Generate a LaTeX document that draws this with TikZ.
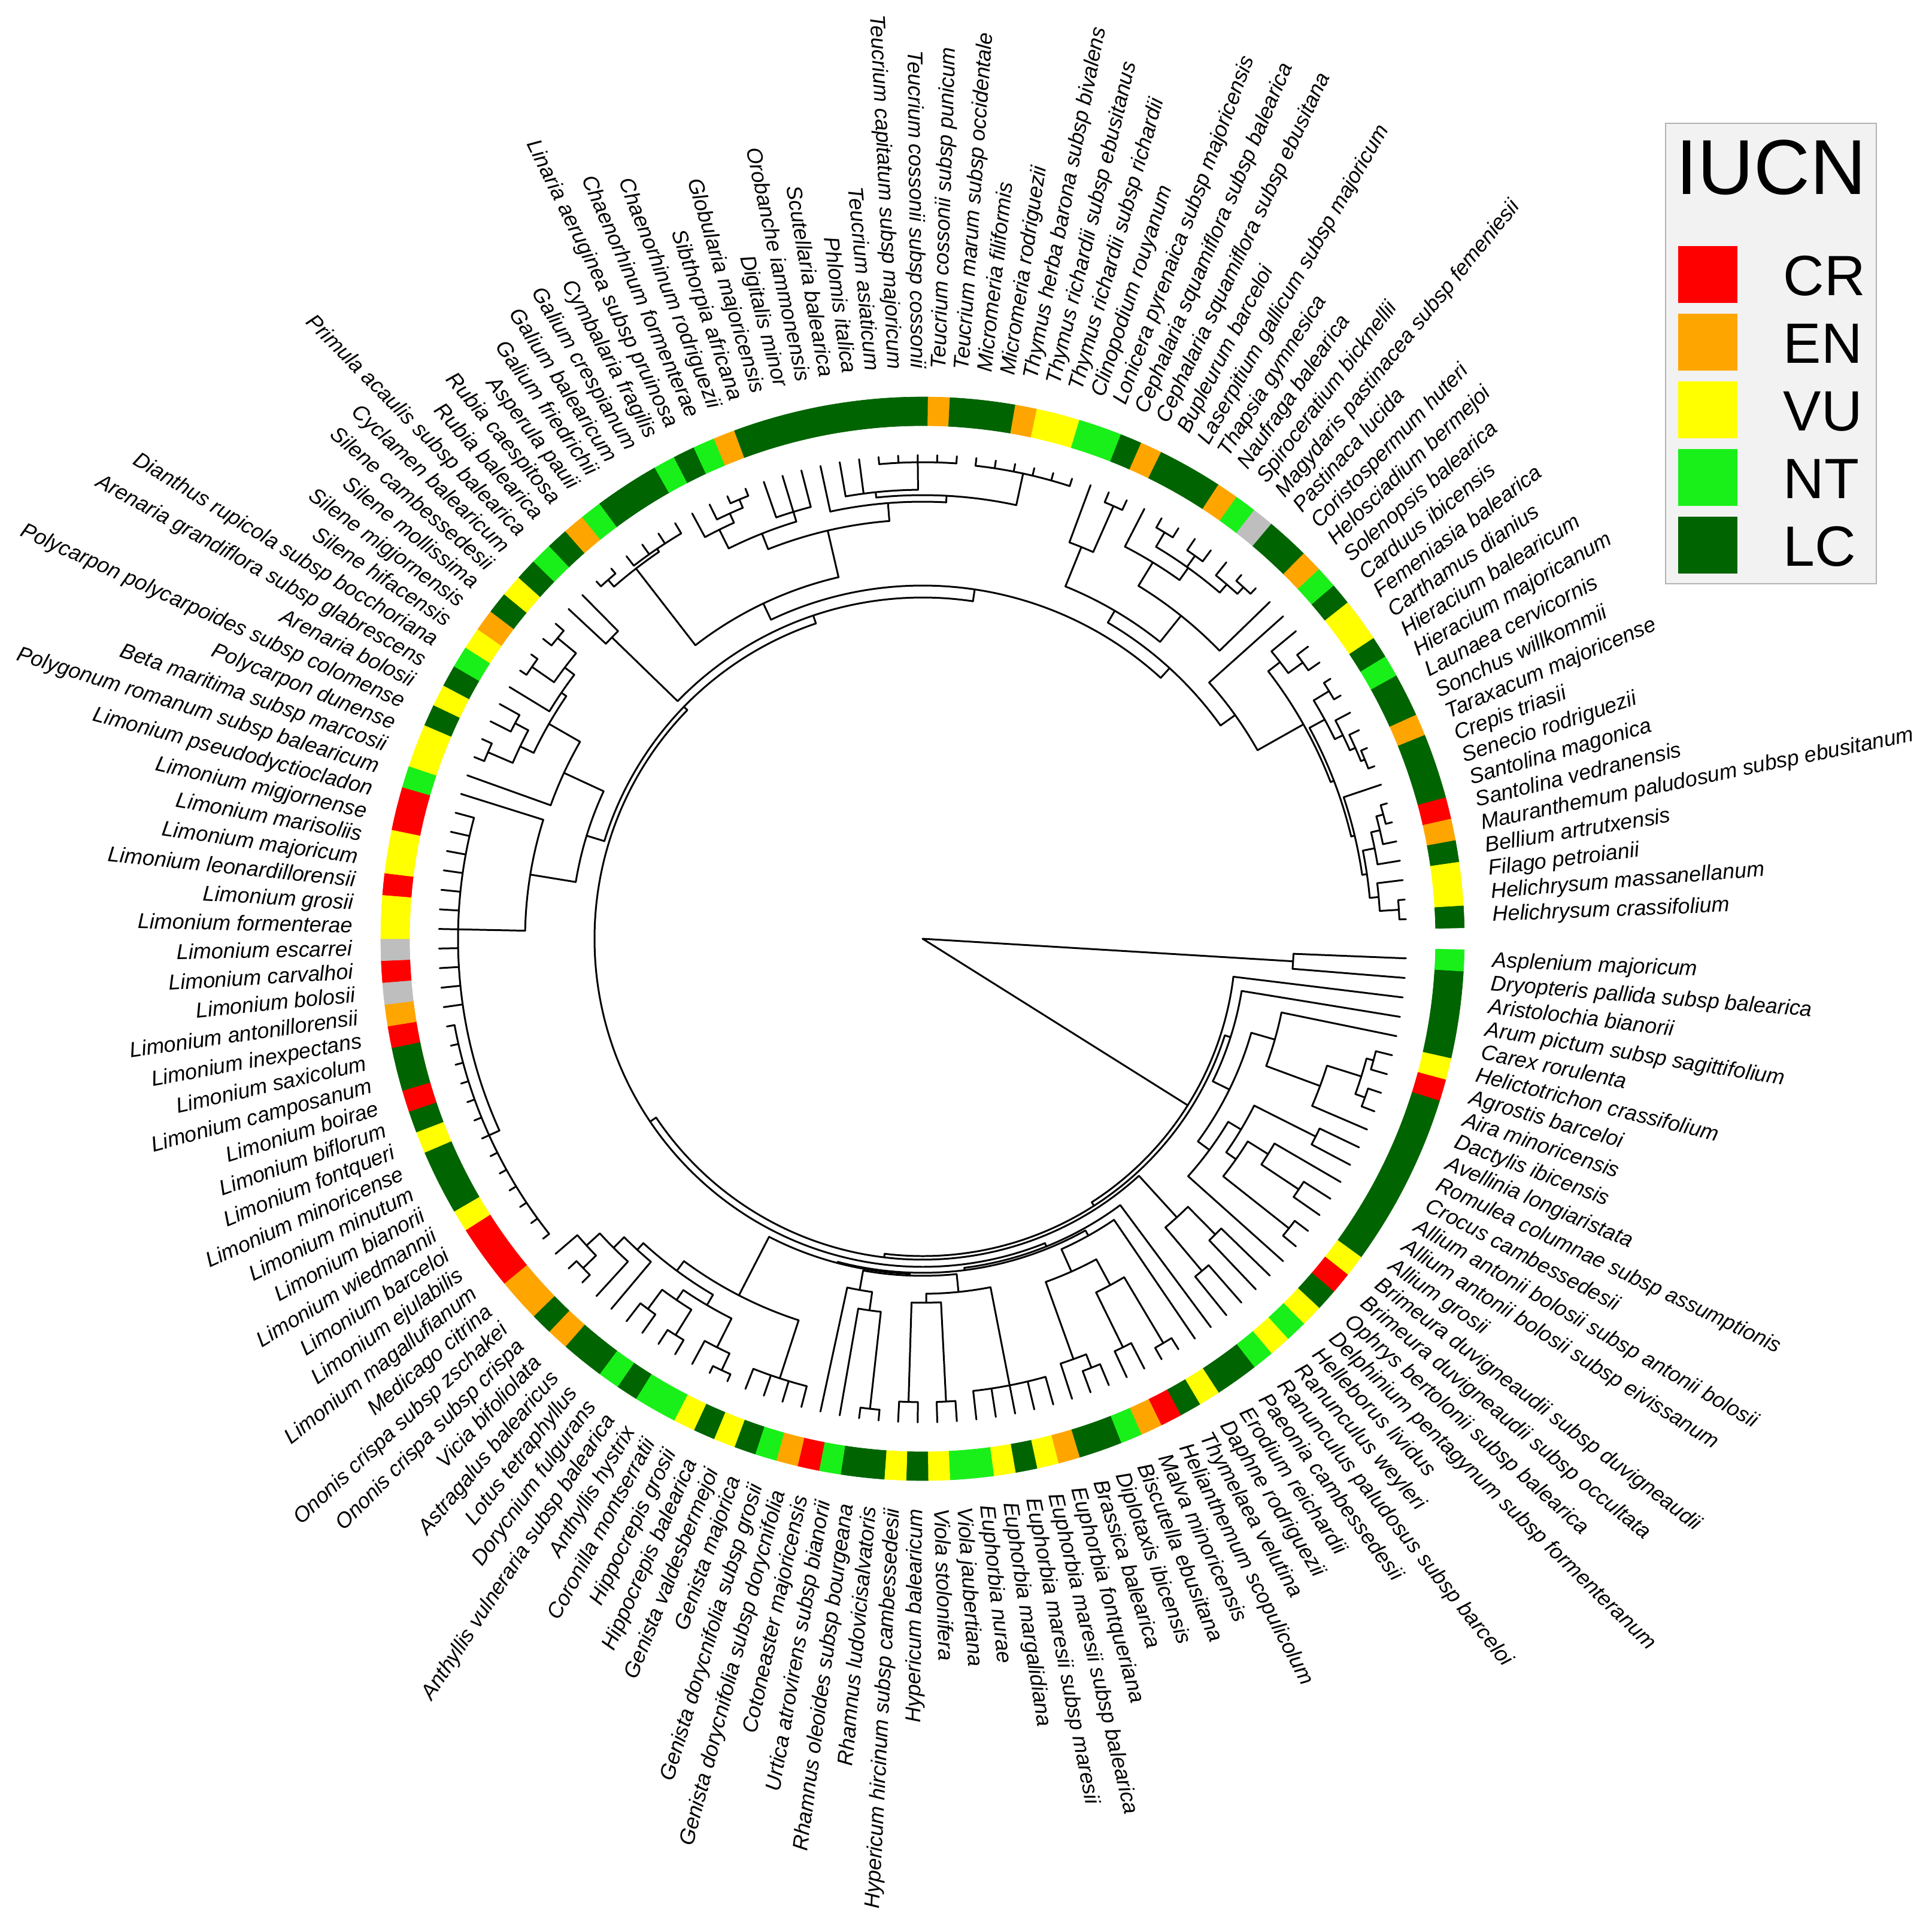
\documentclass[tikz,border=0pt]{standalone}
\usepackage{fontspec}
\setmainfont{Liberation Sans}
\definecolor{cR}{HTML}{FF0000}
\definecolor{cO}{HTML}{FFA500}
\definecolor{cY}{HTML}{FFFF00}
\definecolor{cG}{HTML}{19F019}
\definecolor{cD}{HTML}{006400}
\definecolor{cX}{HTML}{BEBEBE}
\definecolor{legbg}{HTML}{F2F2F2}
\def\tipR{8.08}
\def\stepA{2.32258}
\newcommand\T[2]{%
  \pgfmathsetmacro\tmpa{-(#2)*\stepA}%
  \expandafter\xdef\csname pA#1\endcsname{\tmpa}%
  \expandafter\xdef\csname pR#1\endcsname{\tipR}%
}
\newcommand\N[3]{%
  \xdef\sumA{0}\xdef\nA{0}\xdef\minA{1000}\xdef\maxA{-1000}%
  \foreach \kid in {#3}{%
    \edef\ca{\csname pA\kid\endcsname}%
    \edef\cr{\csname pR\kid\endcsname}%
    \draw[br] (\ca:#2) -- (\ca:\cr);
    \pgfmathsetmacro\tmpb{\sumA+(\ca)}\xdef\sumA{\tmpb}%
    \pgfmathsetmacro\tmpb{\nA+1}\xdef\nA{\tmpb}%
    \pgfmathsetmacro\tmpb{min(\minA,\ca)}\xdef\minA{\tmpb}%
    \pgfmathsetmacro\tmpb{max(\maxA,\ca)}\xdef\maxA{\tmpb}%
  }%
  \draw[br] (\minA:#2) arc[start angle=\minA, end angle=\maxA, radius=#2];
  \pgfmathsetmacro\tmpb{\sumA/\nA}%
  \expandafter\xdef\csname pA#1\endcsname{\tmpb}%
  \expandafter\xdef\csname pR#1\endcsname{#2}%
}
\newcommand\Cell[2]{%
  \pgfmathsetmacro\cea{-(#1)*\stepA+1.16129}%
  \pgfmathsetmacro\ceb{-(#1)*\stepA-1.16129}%
  \fill[#2,draw=#2,line width=0.2pt] (\cea:8.57) arc[start angle=\cea,end angle=\ceb,radius=8.57] -- (\ceb:9.05) arc[start angle=\ceb,end angle=\cea,radius=9.05] -- cycle;
}
\newcommand\Lab[2]{%
  \pgfmathsetmacro\la{-(#1)*\stepA}%
  \pgfmathsetmacro\lb{\la+180}%
  \ifnum#1<39
    \node[lab,anchor=west,rotate=\la] (L#1) at (\la:9.52) {#2};
  \else\ifnum#1>116
    \node[lab,anchor=west,rotate=\la] (L#1) at (\la:9.52) {#2};
  \else
    \node[lab,anchor=east,rotate=\lb] (L#1) at (\la:9.52) {#2};
  \fi\fi
}
\begin{document}
\begin{tikzpicture}[
  br/.style={line width=0.85pt, line cap=round},
  lab/.style={font=\fontsize{10.2}{12}\selectfont\itshape, inner sep=0pt, text height=7.3pt, text depth=2pt},
  legtxt/.style={font=\fontsize{27}{30}\selectfont, inner sep=0pt, anchor=base west},
  legsq/.style={minimum width=0.99cm, minimum height=0.95cm, inner sep=0pt, draw=none}]
\fill[white] (-15.41,-16.53) rectangle (16.86,15.68);
\useasboundingbox (-15.41,-16.53) rectangle (16.86,15.68);

% ---------------- tree ----------------
\foreach \i in {1,...,154}{\T{t\i}{\i}}
\N{F}{6.20}{t1,t2}
% monocots
\N{G2}{7.80}{t6,t7}
\N{G3}{7.85}{t8,t9}
\N{G1}{7.68}{G2,G3}
\N{Gr}{7.08}{G1,t10}
\N{Po}{6.12}{t5,Gr}
\N{Ir}{7.35}{t11,t12}
\N{Alb}{7.55}{t14,t15}
\N{Al}{6.80}{t13,Alb}
\N{Br}{7.80}{t16,t17}
\N{Asc}{6.40}{Al,Br}
\N{Asb}{6.20}{Ir,Asc}
\N{As}{5.95}{Asb,t18}
\N{Mb}{5.71}{Po,As}
\N{M}{5.40}{t4,Mb}
% Ranunculales
\N{Raa}{6.95}{t19,t20}
\N{Rab}{7.25}{t21,t22}
\N{Ra}{6.30}{Raa,Rab}
% malvids
\N{Th}{7.86}{t25,t26}
\N{Mvb}{7.60}{t27,t28}
\N{Mv}{6.58}{Th,Mvb}
\N{Bsb}{7.70}{t29,t30}
\N{Bs}{7.46}{Bsb,t31}
\N{MB}{6.09}{Mv,Bs}
\N{Malv}{5.68}{t24,MB}
% Malpighiales, Rosales
\N{Eu}{7.60}{t32,t33,t34,t35,t36}
\N{Vi}{7.74}{t37,t38}
\N{Hy}{7.74}{t39,t40}
\N{VH}{6.08}{Vi,Hy}
\N{Mp}{5.93}{Eu,VH}
\N{Rh}{7.90}{t41,t42}
\N{Rob}{6.27}{t43,Rh}
\N{Ro}{5.96}{t44,Rob}
\N{RM}{5.63}{Mp,Ro}
% Fabaceae
\N{Ge}{7.72}{t45,t46,t47,t48}
\N{Hi}{7.95}{t49,t50}
\N{Loa}{7.64}{Hi,t51}
\N{An}{7.80}{t52,t53}
\N{DL}{7.70}{t54,t55}
\N{Lob}{7.30}{An,DL}
\N{Lo}{7.10}{Loa,Lob}
\N{On}{7.90}{t58,t59}
\N{IRc}{7.60}{On,t60}
\N{IRb}{7.30}{t57,IRc}
\N{IR}{7.05}{t56,IRb}
\N{Fab}{6.90}{Lo,IR}
\N{Fa}{6.70}{Ge,Fab}
\N{RMb}{5.60}{RM,Fa}
\N{Ros}{5.58}{Malv,RMb}
\N{SR}{5.54}{t23,Ros}
% Caryophyllales
\N{LiB}{7.95}{t61,t62,t63,t64,t65,t66,t67,t68,t69,t70,t71,t72,t73}
\N{Li}{7.76}{LiB,t74,t75,t76,t77,t78,t79,t80,t81,t82,t83,t84}
\N{PL}{6.64}{Li,t85}
\N{Pc}{7.90}{t87,t88}
\N{Ar}{7.70}{t89,t90}
\N{Caa}{7.45}{Pc,Ar}
\N{Sia}{7.95}{t92,t93}
\N{Sib}{7.90}{t94,t95}
\N{Si}{7.50}{Sia,Sib}
\N{Cab}{7.30}{t91,Si}
\N{Ca}{7.20}{Caa,Cab}
\N{BC}{6.60}{t86,Ca}
\N{Cy}{5.87}{PL,BC}
% asterids
\N{Er}{7.23}{t96,t97}
\N{Ru}{7.97}{t98,t99}
\N{Ga}{7.88}{t100,t101,t102,t103}
\N{Rb}{7.82}{Ru,Ga}
\N{Ch}{7.95}{t106,t107}
\N{Anb}{7.80}{t105,Ch}
\N{Ant}{7.63}{t104,Anb}
\N{Plb}{7.45}{t108,t109,t110}
\N{PlX}{7.28}{Ant,Plb}
\N{Te}{7.96}{t114,t115,t116,t117,t118}
\N{LamC}{7.50}{t112,t113,Te}
\N{Mn}{7.95}{t119,t120,t121,t122,t123,t124}
\N{LamW}{7.41}{LamC,Mn}
\N{LamZ}{7.30}{t111,LamW}
\N{Lm}{7.00}{PlX,LamZ}
\N{La}{6.20}{Rb,Lm}
\N{Ce}{7.90}{t126,t127}
\N{Dp}{7.06}{t125,Ce}
\N{Apd}{7.90}{t129,t130}
\N{Ape}{7.85}{t131,t132}
\N{Apg}{7.95}{t134,t135}
\N{Apf}{7.80}{t133,Apg}
\N{Aph}{7.62}{Apd,Ape,Apf}
\N{Apc}{7.37}{t128,Aph}
\N{Apb}{6.91}{Apc,t136}
\N{DA}{6.35}{Dp,Apb}
\N{Cdb}{7.85}{t139,t140}
\N{Cd}{7.55}{t138,Cdb}
\N{Hie}{7.95}{t141,t142}
\N{Cid}{7.97}{t145,t146}
\N{Cic}{7.90}{t144,Cid}
\N{Cib}{7.80}{t143,Cic}
\N{Ci}{7.65}{Hie,Cib}
\N{Sa}{7.97}{t148,t149}
\N{Anth}{7.85}{Sa,t150}
\N{AnthB}{7.70}{Anth,t151}
\N{He}{7.97}{t153,t154}
\N{Gn}{7.65}{t152,He}
\N{AsD}{7.50}{AnthB,Gn}
\N{AsC}{7.42}{t147,AsD}
\N{AsB}{7.36}{Ci,AsC}
\N{Aste}{7.30}{Cd,AsB}
\N{Astr}{6.42}{t137,Aste}
\N{ApAs}{6.12}{DA,Astr}
\N{LC}{5.90}{La,ApAs}
\N{AstA}{5.70}{Er,LC}
\N{SA}{5.56}{Cy,AstA}
\N{Eb}{5.48}{SR,SA}
\N{E}{5.36}{Ra,Eb}
\N{A}{5.30}{M,E}
\N{S}{5.23}{t3,A}
\coordinate (root) at (0,0);
\draw[br] (root) -- (\csname pAF\endcsname:6.20);
\draw[br] (root) -- (\csname pAS\endcsname:5.23);

% ---------------- ring ----------------
\foreach \i/\k in {1/G,2/D,3/D,4/D,5/D,6/Y,7/R,8/D,9/D,10/D,11/D,12/D,13/D,14/D,15/D,16/Y,17/R,18/D,19/Y,20/G,
21/Y,22/G,23/D,24/D,25/Y,26/D,27/R,28/O,29/G,30/D,31/D,32/O,33/Y,34/D,35/Y,36/G,37/G,38/Y,39/D,40/Y,
41/D,42/D,43/G,44/R,45/O,46/G,47/D,48/Y,49/D,50/Y,51/G,52/G,53/D,54/G,55/D,56/D,57/O,58/D,59/O,60/O,
61/R,62/R,63/R,64/Y,65/D,66/D,67/D,68/Y,69/D,70/R,71/D,72/D,73/R,74/O,75/X,76/R,77/X,78/Y,79/Y,80/R,
81/Y,82/Y,83/R,84/R,85/G,86/Y,87/Y,88/D,89/Y,90/D,91/G,92/Y,93/O,94/D,95/Y,96/D,97/G,98/D,99/O,100/G,
101/D,102/D,103/D,104/G,105/D,106/G,107/O,108/D,109/D,110/D,111/D,112/D,113/D,114/D,115/D,116/D,117/O,118/D,119/D,120/D,
121/O,122/Y,123/Y,124/G,125/G,126/D,127/O,128/D,129/D,130/D,131/O,132/G,133/X,134/D,135/D,136/O,137/G,138/D,139/Y,140/Y,
141/D,142/G,143/D,144/D,145/O,146/D,147/D,148/D,149/R,150/O,151/D,152/Y,153/Y,154/D}{\Cell{\i}{c\k}}

% ---------------- labels ----------------
\Lab{1}{Asplenium majoricum}
\Lab{2}{Dryopteris pallida subsp balearica}
\Lab{3}{Aristolochia bianorii}
\Lab{4}{Arum pictum subsp sagittifolium}
\Lab{5}{Carex rorulenta}
\Lab{6}{Helictotrichon crassifolium}
\Lab{7}{Agrostis barceloi}
\Lab{8}{Aira minoricensis}
\Lab{9}{Dactylis ibicensis}
\Lab{10}{Avellinia longiaristata}
\Lab{11}{Romulea columnae subsp assumptionis}
\Lab{12}{Crocus cambessedesii}
\Lab{13}{Allium antonii bolosii subsp antonii bolosii}
\Lab{14}{Allium antonii bolosii subsp eivissanum}
\Lab{15}{Allium grosii}
\Lab{16}{Brimeura duvigneaudii subsp duvigneaudii}
\Lab{17}{Brimeura duvigneaudii subsp occultata}
\Lab{18}{Ophrys bertolonii subsp balearica}
\Lab{19}{Delphinium pentagynum subsp formenteranum}
\Lab{20}{Helleborus lividus}
\Lab{21}{Ranunculus weyleri}
\Lab{22}{Ranunculus paludosus subsp barceloi}
\Lab{23}{Paeonia cambessedesii}
\Lab{24}{Erodium reichardii}
\Lab{25}{Daphne rodriguezii}
\Lab{26}{Thymelaea velutina}
\Lab{27}{Helianthemum scopulicolum}
\Lab{28}{Malva minoricensis}
\Lab{29}{Biscutella ebusitana}
\Lab{30}{Diplotaxis ibicensis}
\Lab{31}{Brassica balearica}
\Lab{32}{Euphorbia fontqueriana}
\Lab{33}{Euphorbia maresii subsp balearica}
\Lab{34}{Euphorbia maresii subsp maresii}
\Lab{35}{Euphorbia margalidiana}
\Lab{36}{Euphorbia nurae}
\Lab{37}{Viola jaubertiana}
\Lab{38}{Viola stolonifera}
\Lab{39}{Hypericum balearicum}
\Lab{40}{Hypericum hircinum subsp cambessedesii}
\Lab{41}{Rhamnus ludovicisalvatoris}
\Lab{42}{Rhamnus oleoides subsp bourgeana}
\Lab{43}{Urtica atrovirens subsp bianorii}
\Lab{44}{Cotoneaster majoricensis}
\Lab{45}{Genista dorycnifolia subsp dorycnifolia}
\Lab{46}{Genista dorycnifolia subsp grosii}
\Lab{47}{Genista majorica}
\Lab{48}{Genista valdesbermejoi}
\Lab{49}{Hippocrepis balearica}
\Lab{50}{Hippocrepis grosii}
\Lab{51}{Coronilla montserratii}
\Lab{52}{Anthyllis hystrix}
\Lab{53}{Anthyllis vulneraria subsp balearica}
\Lab{54}{Dorycnium fulgurans}
\Lab{55}{Lotus tetraphyllus}
\Lab{56}{Astragalus balearicus}
\Lab{57}{Vicia bifoliolata}
\Lab{58}{Ononis crispa subsp crispa}
\Lab{59}{Ononis crispa subsp zschakei}
\Lab{60}{Medicago citrina}
\Lab{61}{Limonium magallufianum}
\Lab{62}{Limonium ejulabilis}
\Lab{63}{Limonium barceloi}
\Lab{64}{Limonium wiedmannii}
\Lab{65}{Limonium bianorii}
\Lab{66}{Limonium minutum}
\Lab{67}{Limonium minoricense}
\Lab{68}{Limonium fontqueri}
\Lab{69}{Limonium biflorum}
\Lab{70}{Limonium boirae}
\Lab{71}{Limonium camposanum}
\Lab{72}{Limonium saxicolum}
\Lab{73}{Limonium inexpectans}
\Lab{74}{Limonium antonillorensii}
\Lab{75}{Limonium bolosii}
\Lab{76}{Limonium carvalhoi}
\Lab{77}{Limonium escarrei}
\Lab{78}{Limonium formenterae}
\Lab{79}{Limonium grosii}
\Lab{80}{Limonium leonardillorensii}
\Lab{81}{Limonium majoricum}
\Lab{82}{Limonium marisoliis}
\Lab{83}{Limonium migjornense}
\Lab{84}{Limonium pseudodyctiocladon}
\Lab{85}{Polygonum romanum subsp balearicum}
\Lab{86}{Beta maritima subsp marcosii}
\Lab{87}{Polycarpon dunense}
\Lab{88}{Polycarpon polycarpoides subsp colomense}
\Lab{89}{Arenaria bolosii}
\Lab{90}{Arenaria grandiflora subsp glabrescens}
\Lab{91}{Dianthus rupicola subsp bocchoriana}
\Lab{92}{Silene hifacensis}
\Lab{93}{Silene migjornensis}
\Lab{94}{Silene mollissima}
\Lab{95}{Silene cambessedesii}
\Lab{96}{Cyclamen balearicum}
\Lab{97}{Primula acaulis subsp balearica}
\Lab{98}{Rubia balearica}
\Lab{99}{Rubia caespitosa}
\Lab{100}{Asperula pauii}
\Lab{101}{Galium friedrichii}
\Lab{102}{Galium balearicum}
\Lab{103}{Galium crespianum}
\Lab{104}{Cymbalaria fragilis}
\Lab{105}{Linaria aeruginea subsp pruinosa}
\Lab{106}{Chaenorhinum formenterae}
\Lab{107}{Chaenorhinum rodriguezii}
\Lab{108}{Sibthorpia africana}
\Lab{109}{Globularia majoricensis}
\Lab{110}{Digitalis minor}
\Lab{111}{Orobanche iammonensis}
\Lab{112}{Scutellaria balearica}
\Lab{113}{Phlomis italica}
\Lab{114}{Teucrium asiaticum}
\Lab{115}{Teucrium capitatum subsp majoricum}
\Lab{116}{Teucrium cossonii subsp cossonii}
\Lab{117}{Teucrium cossonii subsp punicum}
\Lab{118}{Teucrium marum subsp occidentale}
\Lab{119}{Micromeria filiformis}
\Lab{120}{Micromeria rodriguezii}
\Lab{121}{Thymus herba barona subsp bivalens}
\Lab{122}{Thymus richardii subsp ebusitanus}
\Lab{123}{Thymus richardii subsp richardii}
\Lab{124}{Clinopodium rouyanum}
\Lab{125}{Lonicera pyrenaica subsp majoricensis}
\Lab{126}{Cephalaria squamiflora subsp balearica}
\Lab{127}{Cephalaria squamiflora subsp ebusitana}
\Lab{128}{Bupleurum barceloi}
\Lab{129}{Laserpitium gallicum subsp majoricum}
\Lab{130}{Thapsia gymnesica}
\Lab{131}{Naufraga balearica}
\Lab{132}{Spiroceratium bicknellii}
\Lab{133}{Magydaris pastinacea subsp femeniesii}
\Lab{134}{Pastinaca lucida}
\Lab{135}{Coristospermum huteri}
\Lab{136}{Helosciadium bermejoi}
\Lab{137}{Solenopsis balearica}
\Lab{138}{Carduus ibicensis}
\Lab{139}{Femeniasia balearica}
\Lab{140}{Carthamus dianius}
\Lab{141}{Hieracium balearicum}
\Lab{142}{Hieracium majoricanum}
\Lab{143}{Launaea cervicornis}
\Lab{144}{Sonchus willkommii}
\Lab{145}{Taraxacum majoricense}
\Lab{146}{Crepis triasii}
\Lab{147}{Senecio rodriguezii}
\Lab{148}{Santolina magonica}
\Lab{149}{Santolina vedranensis}
\Lab{150}{Mauranthemum paludosum subsp ebusitanum}
\Lab{151}{Bellium artrutxensis}
\Lab{152}{Filago petroianii}
\Lab{153}{Helichrysum massanellanum}
\Lab{154}{Helichrysum crassifolium}

% ---------------- legend ----------------
\node[draw=gray!60, fill=legbg, line width=0.6pt, minimum width=3.52cm, minimum height=7.69cm, inner sep=0pt] (legbox) at (14.17,9.775) {};
\node[font=\fontsize{37}{40}\selectfont, inner sep=0pt, anchor=base] (legtitle) at (14.17,12.43) {IUCN};
\node[legsq, fill=cR] (sqCR) at (13.115,11.09) {};
\node[legsq, fill=cO] (sqEN) at (13.115,9.96) {};
\node[legsq, fill=cY] (sqVU) at (13.115,8.83) {};
\node[legsq, fill=cG] (sqNT) at (13.115,7.70) {};
\node[legsq, fill=cD] (sqLC) at (13.115,6.57) {};
\node[legtxt] (tCR) at (14.37,10.74) {CR};
\node[legtxt] (tEN) at (14.37,9.61) {EN};
\node[legtxt] (tVU) at (14.37,8.48) {VU};
\node[legtxt] (tNT) at (14.37,7.35) {NT};
\node[legtxt] (tLC) at (14.37,6.22) {LC};
\end{tikzpicture}
\end{document}
